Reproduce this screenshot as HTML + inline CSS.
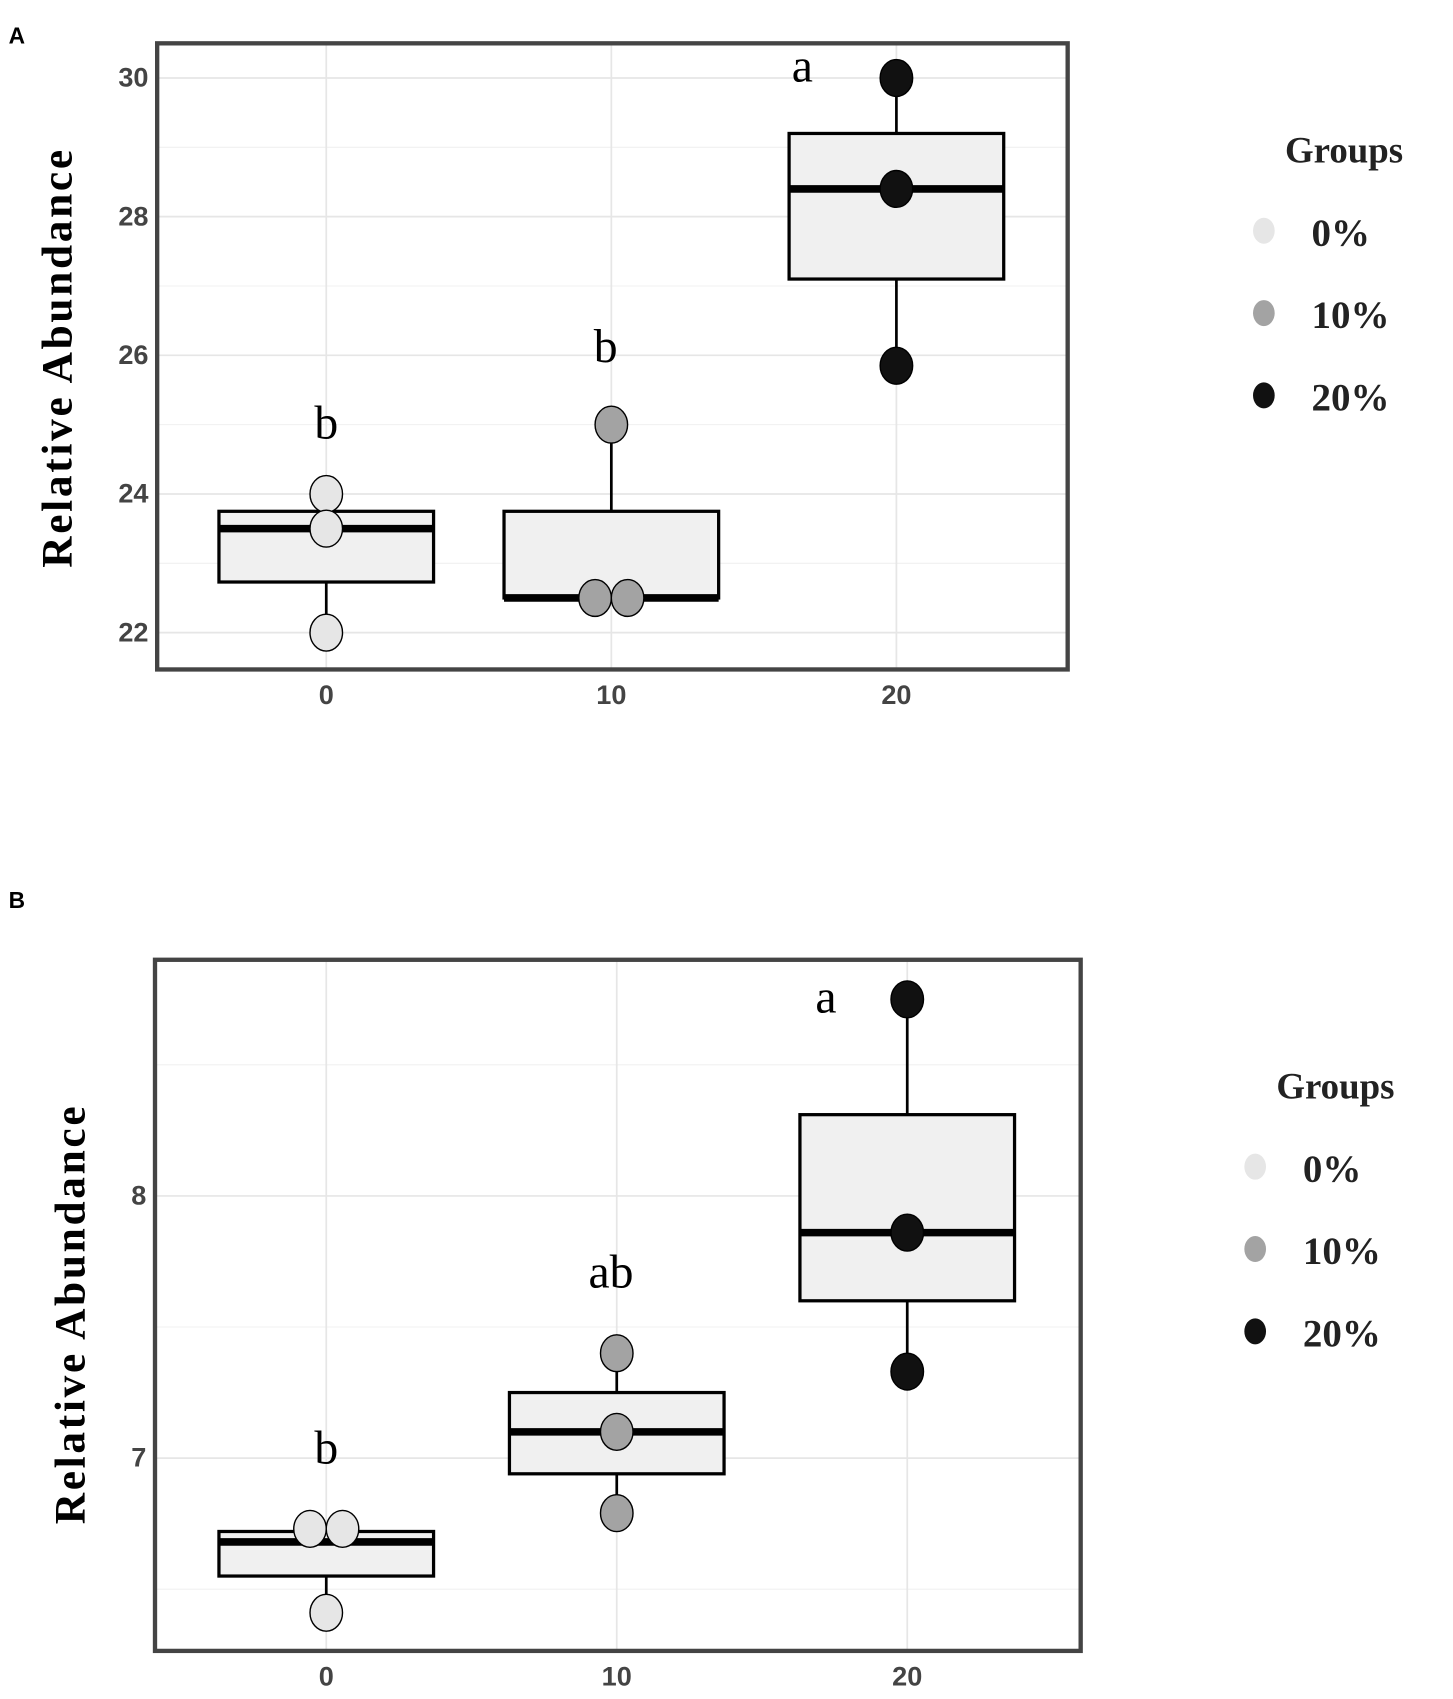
<!DOCTYPE html>
<html><head><meta charset="utf-8"><style>
html,body{margin:0;padding:0;background:#fff;}
svg{display:block;}
.tick{font-family:"Liberation Sans Narrow","Liberation Sans",sans-serif;font-weight:bold;fill:#444;font-size:25px;}
.ser{font-family:"Liberation Serif",serif;}
</style></head><body>
<svg id="fig" width="1453" height="1699" viewBox="0 0 1340.5 1568.4" preserveAspectRatio="none" xmlns="http://www.w3.org/2000/svg"></svg>
<script>
// ---- Panel A data ----
const catsA = [0, 10, 20];
const pointsA = [[24, 23.5, 22], [25, 22.5, 22.5], [30, 28.4, 25.85]];
const jitterA = [[0, 0, 0], [0, -15, 15], [0, 0, 0]];
const q1A = [22.73, 22.5, 27.1];
const medA = [23.5, 22.5, 28.4];
const q3A = [23.75, 23.75, 29.2];
const loA = [22, 22.5, 25.85];
const hiA = [24, 25, 30];
const lettersA = ["b", "b", "a"];
const letterPosA = [[0, 24.8], [-0.2, 25.9], [-3.3, 29.95]];
const yTicksA = [22, 24, 26, 28, 30];
const yMinorA = [23, 25, 27, 29];
// ---- Panel B data ----
const catsB = [0, 10, 20];
const pointsB = [[6.73, 6.73, 6.41], [7.4, 7.1, 6.79], [8.75, 7.86, 7.33]];
const jitterB = [[-15, 15, 0], [0, 0, 0], [0, 0, 0]];
const q1B = [6.55, 6.94, 7.6];
const medB = [6.68, 7.1, 7.86];
const q3B = [6.72, 7.25, 8.31];
const loB = [6.41, 6.79, 7.33];
const hiB = [6.73, 7.4, 8.75];
const lettersB = ["b", "ab", "a"];
const letterPosB = [[0, 6.98], [-0.2, 7.65], [-2.8, 8.7]];
const yTicksB = [7, 8];
const yMinorB = [6.5, 7.5, 8.5];
const groupNames = ["0%", "10%", "20%"];
const groupColors = ["#e6e6e6", "#a3a3a3", "#111111"];

const NS = "http://www.w3.org/2000/svg";
const svg = document.getElementById('fig');
function mk(tag, attrs, parent, text) {
  const e = document.createElementNS(NS, tag);
  for (const k in attrs) e.setAttribute(k, attrs[k]);
  if (text !== undefined) e.textContent = text;
  (parent || svg).appendChild(e);
  return e;
}

function panel(cfg) {
  const g = mk('g', {});
  
  
  const xs = v => cfg.x0 + (v - cfg.cats[0]) / (cfg.cats[2] - cfg.cats[0]) * (cfg.x2 - cfg.x0);
  const ys = v => cfg.yRef + (cfg.vRef - v) * cfg.pxPerUnit;
  cfg.minor.forEach(v => {
    const l = mk('line', {x1: cfg.fl, x2: cfg.fr, y1: ys(v), y2: ys(v), stroke: '#f0f0f0', 'stroke-width': 1}, g);
    
    
  });
  cfg.ticks.forEach(v => {
    const l = mk('line', {x1: cfg.fl, x2: cfg.fr, y1: ys(v), y2: ys(v), stroke: '#e6e6e6', 'stroke-width': 1.6}, g);
    
    
    const t = mk('text', {x: cfg.fl - 8, y: ys(v) + 8, 'text-anchor': 'end', class: 'tick'}, g, String(v));
    
    
  });
  cfg.cats.forEach(c => {
    const l = mk('line', {x1: xs(c), x2: xs(c), y1: cfg.ft, y2: cfg.fb, stroke: '#e6e6e6', 'stroke-width': 1.6}, g);
    
    
    const t = mk('text', {x: xs(c), y: cfg.fb + 32, 'text-anchor': 'middle', class: 'tick'}, g, String(c));
    
    
  });
  const hw = 99;
  cfg.cats.forEach((c, i) => {
    const cx = xs(c);
    const w1 = mk('line', {x1: cx, x2: cx, y1: ys(cfg.hi[i]), y2: ys(cfg.q3[i]), stroke: '#000', 'stroke-width': 2.5}, g);
    
    
    const w2 = mk('line', {x1: cx, x2: cx, y1: ys(cfg.q1[i]), y2: ys(cfg.lo[i]), stroke: '#000', 'stroke-width': 2.5}, g);
    
    
    const r = mk('rect', {x: cx - hw, y: ys(cfg.q3[i]), width: 2 * hw, height: ys(cfg.q1[i]) - ys(cfg.q3[i]), fill: '#f0f0f0', stroke: '#000', 'stroke-width': 3}, g);
    
    
    const m = mk('line', {x1: cx - hw, x2: cx + hw, y1: ys(cfg.med[i]), y2: ys(cfg.med[i]), stroke: '#000', 'stroke-width': 7}, g);
    
    
    cfg.pts[i].forEach((v, j) => {
      const p = mk('ellipse', {cx: cx + cfg.jit[i][j], cy: ys(v), rx: 15, ry: 17, fill: groupColors[i], stroke: '#000', 'stroke-width': 1.3}, g);
      
      
    });
    const lp = cfg.lpos[i];
    const t = mk('text', {x: xs(c + lp[0]), y: ys(lp[1]), 'text-anchor': 'middle', class: 'ser', 'font-size': 44, fill: '#000'}, g, cfg.letters[i]);
    
    
  });
  const f = mk('rect', {x: cfg.fl, y: cfg.ft, width: cfg.fr - cfg.fl, height: cfg.fb - cfg.ft, fill: 'none', stroke: '#444', 'stroke-width': 4}, g);
  
  
  const yt = mk('text', {x: 0, y: 0, transform: `translate(${cfg.ytx},${cfg.yty}) rotate(-90)`, 'text-anchor': 'middle', class: 'ser', 'font-size': 40, 'font-weight': 'bold', 'letter-spacing': 2.5, fill: '#000'}, g, 'Relative Abundance');
  
  
  const pl = mk('text', {x: 8, y: cfg.ply, 'font-family': 'Liberation Sans, sans-serif', 'font-weight': 'bold', 'font-size': 21, fill: '#000'}, g, cfg.label);
  
  
  const lg = mk('g', {}, g);
  
  
  const lt = mk('text', {x: cfg.lgx + 74, y: cfg.lgy, 'text-anchor': 'middle', class: 'ser', 'font-size': 34, 'font-weight': 'bold', fill: '#222'}, lg, 'Groups');
  
  
  groupNames.forEach((n, i) => {
    const yy = cfg.lgy + 65 + i * 76;
    const d = mk('ellipse', {cx: cfg.lgx, cy: yy - 2, rx: 10, ry: 12, fill: groupColors[i]}, lg);
    
    
    const tt = mk('text', {x: cfg.lgx + 44, y: yy + 12, class: 'ser', 'font-size': 36, 'font-weight': 'bold', fill: '#222'}, lg, n);
    
    
  });
}

panel({name: 'panel-a', label: 'A', ply: 40, cats: catsA, x0: 301, x2: 827, yRef: 72, vRef: 30, pxPerUnit: 64,
  fl: 145, fr: 985, ft: 40, fb: 618, ticks: yTicksA, minor: yMinorA,
  pts: pointsA, jit: jitterA, q1: q1A, med: medA, q3: q3A, lo: loA, hi: hiA,
  letters: lettersA, lpos: letterPosA, ytx: 66, yty: 330, lgx: 1166, lgy: 150});
panel({name: 'panel-b', label: 'B', ply: 838, cats: catsB, x0: 301, x2: 837, yRef: 1346, vRef: 7, pxPerUnit: 242,
  fl: 143, fr: 997, ft: 886, fb: 1524, ticks: yTicksB, minor: yMinorB,
  pts: pointsB, jit: jitterB, q1: q1B, med: medB, q3: q3B, lo: loB, hi: hiB,
  letters: lettersB, lpos: letterPosB, ytx: 78, yty: 1213, lgx: 1158, lgy: 1014});
</script>
</body></html>
